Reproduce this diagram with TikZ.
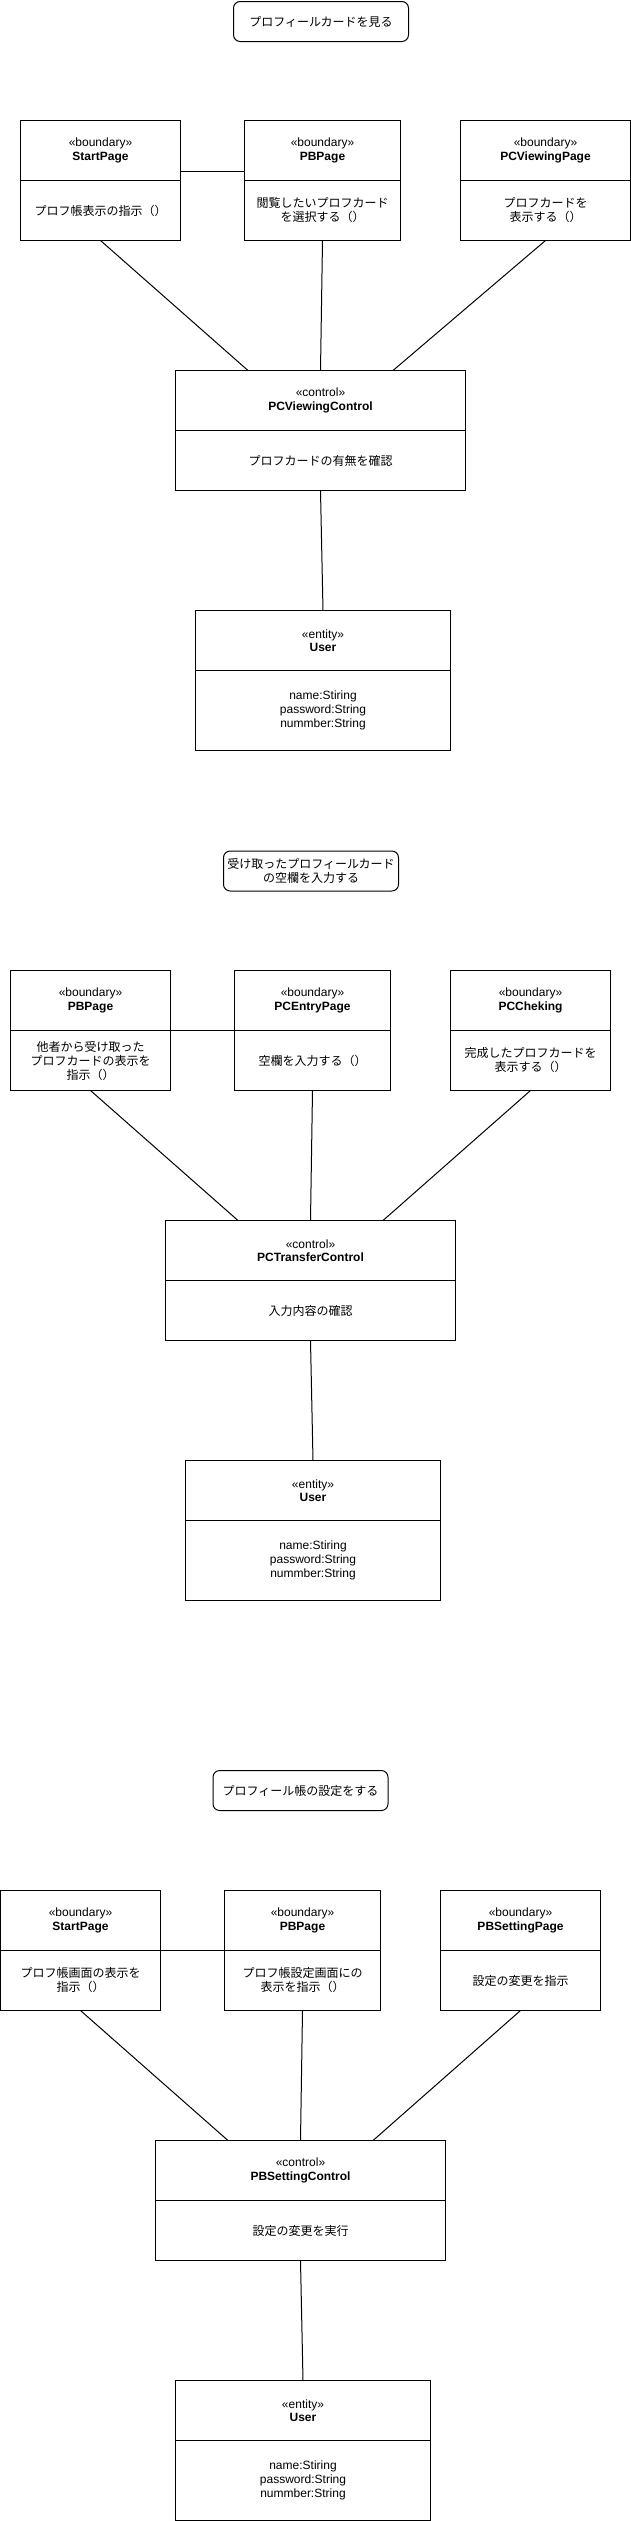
\documentclass[tikz,border=0pt]{standalone}
\usepackage{fontspec}
\setmainfont{Liberation Sans}
\newfontfamily\jp{Noto Sans CJK JP}
\usetikzlibrary{positioning,calc}
\tikzset{hd/.style={draw,outer sep=0pt,line width=.75pt,align=center,inner sep=1pt,minimum height=45pt,font=\fontsize{9}{10}\selectfont},
 bd/.style={draw,outer sep=0pt,line width=.75pt,align=center,inner sep=1pt,minimum height=45pt,font=\jp\fontsize{9}{10.5}\selectfont},
 ua/.style={draw,outer sep=0pt,line width=.75pt,align=center,inner sep=1pt,minimum height=60pt,minimum width=191.25pt,font=\fontsize{9}{10.7}\selectfont},
 ti/.style={draw,line width=.75pt,rounded corners=5pt,align=center,inner sep=1pt,minimum width=131.25pt,minimum height=30pt,font=\jp\fontsize{9}{10.5}\selectfont},
 ln/.style={line width=.75pt}}
\newcommand{\stereo}[2]{«#1»\\\textbf{#2}}

\begin{document}
\begin{tikzpicture}[x=.75pt,y=-.75pt]
\useasboundingbox (-.5,-.5) rectangle (630.5,2520.5);
\node[ti](t1) at (320.5,21){プロフィールカードを見る};
\node[hd,minimum width=120pt](sph1) at (100,150){\stereo{boundary}{StartPage}};\node[bd,minimum width=120pt,below=0pt of sph1](sp1){プロフ帳表示の指示（）};
\node[hd,minimum width=117pt](pbh1) at (322,150){\stereo{boundary}{PBPage}};\node[bd,minimum width=117pt,below=0pt of pbh1](pb1){閲覧したいプロフカード\\を選択する（）};
\node[hd,minimum width=127.5pt](pvh1) at (545,150){\stereo{boundary}{PCViewingPage}};\node[bd,minimum width=127.5pt,below=0pt of pvh1](pv1){プロフカードを\\表示する（）};
\node[hd,minimum width=217.5pt](ch1) at (320,400){\stereo{control}{PCViewingControl}};\node[bd,minimum width=217.5pt,below=0pt of ch1](c1){プロフカードの有無を確認};
\node[hd,minimum width=191.25pt](uh1) at (322.5,640){\stereo{entity}{User}};\node[ua,below=0pt of uh1](u1){name:Stiring\\password:String\\nummber:String};
\draw[ln]($(sph1.south east)!.15!(sph1.north east)$)--($(pbh1.south west)!.15!(pbh1.north west)$);
\draw[ln](sp1.south)--($(ch1.north west)!.25!(ch1.north east)$);\draw[ln](pb1.south)--(ch1.north);\draw[ln](pv1.south)--($(ch1.north west)!.75!(ch1.north east)$);
\draw[ln](c1.south)--(uh1.north);

\node[ti](t2) at (310.5,870.5){受け取ったプロフィールカード\\の空欄を入力する};
\node[hd,minimum width=120pt](pbh2) at (90,1000){\stereo{boundary}{PBPage}};\node[bd,minimum width=120pt,below=0pt of pbh2](pb2){他者から受け取った\\プロフカードの表示を\\指示（）};
\node[hd,minimum width=117pt](peh2) at (312,1000){\stereo{boundary}{PCEntryPage}};\node[bd,minimum width=117pt,below=0pt of peh2](pe2){空欄を入力する（）};
\node[hd,minimum width=120pt](pch2) at (530,1000){\stereo{boundary}{PCCheking}};\node[bd,minimum width=120pt,below=0pt of pch2](pc2){完成したプロフカードを\\表示する（）};
\node[hd,minimum width=217.5pt](ch2) at (310,1250){\stereo{control}{PCTransferControl}};\node[bd,minimum width=217.5pt,below=0pt of ch2](c2){入力内容の確認};
\node[hd,minimum width=191.25pt](uh2) at (312.5,1490){\stereo{entity}{User}};\node[ua,below=0pt of uh2](u2){name:Stiring\\password:String\\nummber:String};
\draw[ln](pbh2.south east)--(peh2.south west);
\draw[ln](pb2.south)--($(ch2.north west)!.25!(ch2.north east)$);\draw[ln](pe2.south)--(ch2.north);\draw[ln](pc2.south)--($(ch2.north west)!.75!(ch2.north east)$);
\draw[ln](c2.south)--(uh2.north);

\node[ti](t3) at (300,1790){プロフィール帳の設定をする};
\node[hd,minimum width=120pt](sph3) at (80,1920){\stereo{boundary}{StartPage}};\node[bd,minimum width=120pt,below=0pt of sph3](sp3){プロフ帳画面の表示を\\指示（）};
\node[hd,minimum width=117pt](pbh3) at (302,1920){\stereo{boundary}{PBPage}};\node[bd,minimum width=117pt,below=0pt of pbh3](pb3){プロフ帳設定画面にの\\表示を指示（）};
\node[hd,minimum width=120pt](psh3) at (520,1920){\stereo{boundary}{PBSettingPage}};\node[bd,minimum width=120pt,below=0pt of psh3](ps3){設定の変更を指示};
\node[hd,minimum width=217.5pt](ch3) at (300,2170){\stereo{control}{PBSettingControl}};\node[bd,minimum width=217.5pt,below=0pt of ch3](c3){設定の変更を実行};
\node[hd,minimum width=191.25pt](uh3) at (302.5,2410){\stereo{entity}{User}};\node[ua,below=0pt of uh3](u3){name:Stiring\\password:String\\nummber:String};
\draw[ln](sph3.south east)--(pbh3.south west);
\draw[ln](sp3.south)--($(ch3.north west)!.25!(ch3.north east)$);\draw[ln](pb3.south)--(ch3.north);\draw[ln](ps3.south)--($(ch3.north west)!.75!(ch3.north east)$);
\draw[ln](c3.south)--(uh3.north);
\end{tikzpicture}
\end{document}
